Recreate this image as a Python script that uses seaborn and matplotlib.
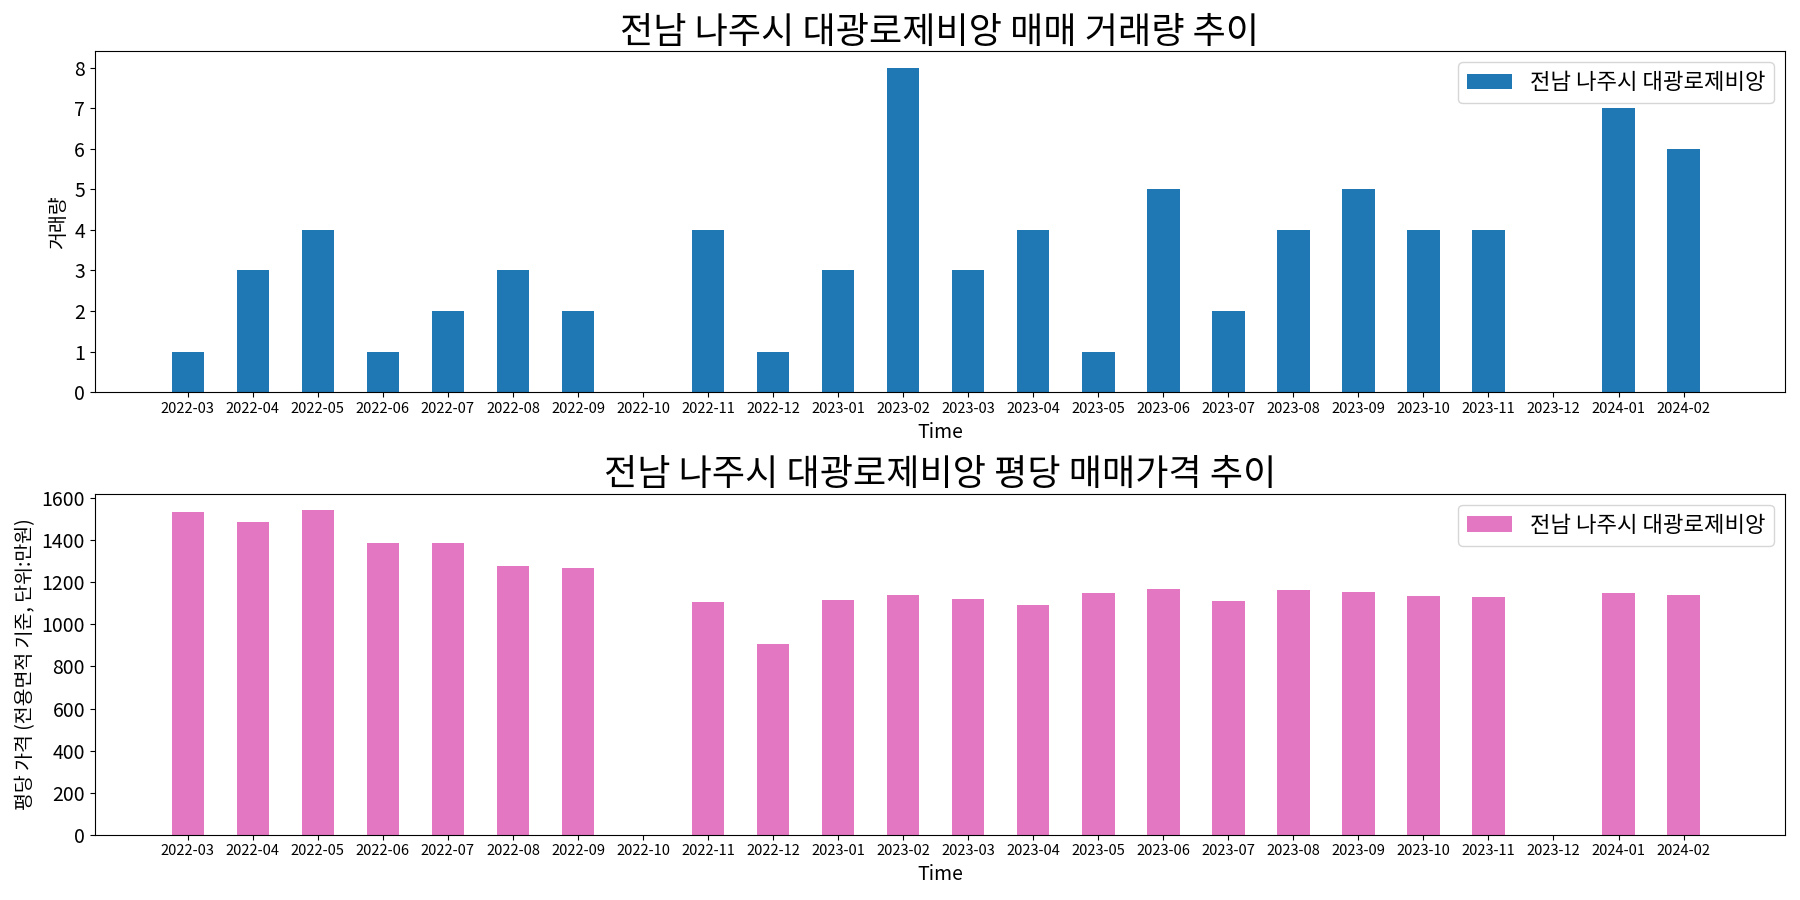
import matplotlib
matplotlib.use("Agg")
import matplotlib.pyplot as plt
import seaborn as sns
import numpy as np
import pandas as pd

months = ["2022-03", "2022-04", "2022-05", "2022-06", "2022-07", "2022-08", "2022-09",
          "2022-10", "2022-11", "2022-12", "2023-01", "2023-02", "2023-03", "2023-04",
          "2023-05", "2023-06", "2023-07", "2023-08", "2023-09", "2023-10", "2023-11",
          "2023-12", "2024-01", "2024-02"]
counts = [1, 3, 4, 1, 2, 3, 2, 0, 4, 1, 3, 8, 3, 4, 1, 5, 2, 4, 5, 4, 4, 0, 7, 6]
prices = [1534, 1487, 1544, 1386, 1386, 1280, 1266, np.nan, 1108, 906, 1117, 1141,
          1122, 1093, 1151, 1170, 1113, 1165, 1156, 1137, 1132, np.nan, 1151, 1141]
count_ticks = [0, 1, 2, 3, 4, 5, 6, 7, 8]
price_ticks = [0, 200, 400, 600, 800, 1000, 1200, 1400, 1600]
name = "전남 나주시 대광로제비앙"

plt.rcParams['font.family'] = ['Noto Sans CJK KR', 'DejaVu Sans']
plt.rcParams['axes.unicode_minus'] = False

df = pd.DataFrame({"month": months, "count": counts, "price": prices})

fig, axes = plt.subplots(2, 1, figsize=(18, 9), dpi=100)

ax = axes[0]
sns.barplot(data=df, x="month", y="count", order=months, color="#1f77b4",
            saturation=1, width=0.5, errorbar=None, label=name, ax=ax)
ax.set_title(f"{name} 매매 거래량 추이", fontsize=26)
ax.set_xlabel("Time", fontsize=14)
ax.set_ylabel("거래량", fontsize=14)
ax.set_xlim(-1.43, 24.56)
ax.set_yticks(count_ticks)
ax.set_ylim(0, 8.4)
ax.tick_params(axis='x', labelsize=10.5)
ax.tick_params(axis='y', labelsize=14)
ax.legend(loc="upper right", fontsize=16)

ax = axes[1]
sns.barplot(data=df, x="month", y="price", order=months, color="#e377c2",
            saturation=1, width=0.5, errorbar=None, label=name, ax=ax)
ax.set_title(f"{name} 평당 매매가격 추이", fontsize=26)
ax.set_xlabel("Time", fontsize=14)
ax.set_ylabel("평당 가격 (전용면적 기준, 단위:만원)", fontsize=14)
ax.set_xlim(-1.43, 24.56)
ax.set_yticks(price_ticks)
ax.set_ylim(0, 1621)
ax.tick_params(axis='x', labelsize=10.5)
ax.tick_params(axis='y', labelsize=14)
ax.legend(loc="upper right", fontsize=16)

fig.tight_layout()
fig.savefig("out.png", dpi=100)
